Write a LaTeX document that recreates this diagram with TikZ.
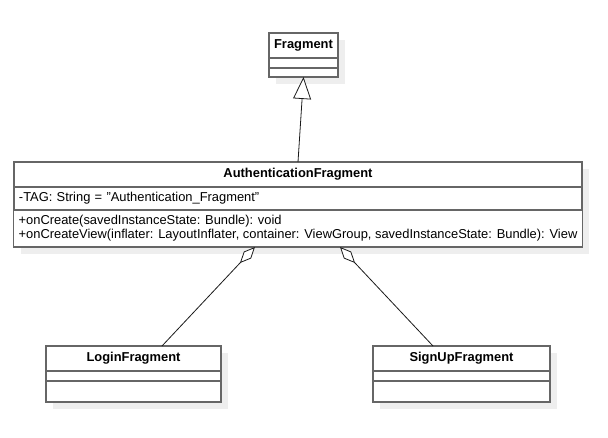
\documentclass[tikz,border=0pt]{standalone}
\usepackage{fontspec}
\setmainfont{Liberation Sans}
\usepackage{xcolor}
\definecolor{umlborder}{HTML}{666666}
\definecolor{umlshadow}{HTML}{EEEEEE}
\definecolor{umlline}{HTML}{1A1A1A}
\usetikzlibrary{positioning, arrows.meta, shadows}
\tikzset{
  every node/.style={font=\fontsize{12.9}{14.3}\selectfont},
  umlbox/.style={
    rectangle, draw=umlborder, line width=1.1pt, fill=white, outer sep=0pt,
    drop shadow={shadow xshift=7pt, shadow yshift=-7pt, fill=umlshadow, opacity=1}
  },
  classname/.style={
    umlbox, minimum height=25pt, inner sep=0pt,
    font=\fontsize{12.9}{14.3}\selectfont\bfseries
  },
  classpart/.style={umlbox, inner sep=0pt, inner xsep=5pt, align=left},
  inherit/.style={-{Triangle[length=22pt, width=18pt, fill=white]}, umlline, line width=0.8pt},
  aggregate/.style={-{Diamond[length=22pt, width=10pt, fill=white]}, umlline, line width=0.8pt}
}

\begin{document}
\begin{tikzpicture}[x=1pt, y=1pt]
\useasboundingbox (0,0) rectangle (608,-437);

% superclass
\node[classname, minimum width=69pt] (fragname) at (303.5,-45.5) {Fragment};
\node[classpart, minimum width=69pt, minimum height=10pt, below=0pt of fragname] (fragattr) {};
\node[classpart, minimum width=69pt, minimum height=9pt, below=0pt of fragattr] (fragops) {};

% the abstract fragment
\node[classname, minimum width=568pt] (authname) at (298,-174.5) {AuthenticationFragment};
\node[classpart, text width=558pt, minimum height=23pt, below=0pt of authname]
  (authattr) {-TAG: String = "Authentication\_Fragment"};
\node[classpart, minimum width=568pt, minimum height=37pt, below=0pt of authattr]
  (authops) {+onCreate(savedInstanceState: Bundle): void\\
  +onCreateView(inflater: LayoutInflater, container: ViewGroup, savedInstanceState: Bundle): View};

% subfragments
\node[classname, minimum width=175pt] (loginname) at (133.5,-358.5) {LoginFragment};
\node[classpart, minimum width=175pt, minimum height=10pt, below=0pt of loginname] (loginattr) {};
\node[classpart, minimum width=175pt, minimum height=21pt, below=0pt of loginattr] (loginops) {};

\node[classname, minimum width=177pt] (signupname) at (461.5,-358.5) {SignUpFragment};
\node[classpart, minimum width=177pt, minimum height=10pt, below=0pt of signupname] (signupattr) {};
\node[classpart, minimum width=177pt, minimum height=21pt, below=0pt of signupattr] (signupops) {};

\draw[inherit] (authname.north) -- (fragops.south);
\draw[aggregate] ([xshift=28.5pt]loginname.north) -- ([xshift=-43pt]authops.south);
\draw[aggregate] ([xshift=-28.5pt]signupname.north) -- ([xshift=42pt]authops.south);
\end{tikzpicture}
\end{document}
